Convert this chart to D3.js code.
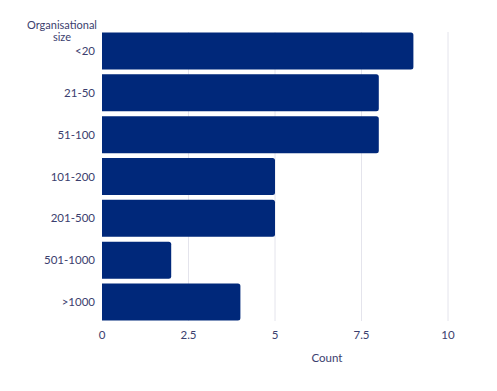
<!DOCTYPE html>
<html><head><meta charset="utf-8">
<script src="https://cdn.jsdelivr.net/npm/d3@7"></script>
<style>body{margin:0;background:#fff}text{font-family:Lato,"Open Sans",sans-serif}</style>
</head><body>
<svg id="c" width="497" height="391"></svg>
<script>
const categories = ["<20","21-50","51-100","101-200","201-500","501-1000",">1000"];
const counts = [9,8,8,5,5,2,4];
const xTicks = [0,2.5,5,7.5,10];

const svg = d3.select("#c");
const textColor = "#3b3e6e";
const x = d3.scaleLinear().domain([0,10]).range([102,448]);
const y = d3.scaleBand().domain(categories).range([30,323]).paddingInner(0.115).paddingOuter(0.06);

// gridlines
svg.append("g").selectAll("line").data(xTicks.slice(1)).join("line")
  .attr("x1",d=>x(d)).attr("x2",d=>x(d)).attr("y1",32).attr("y2",321)
  .attr("stroke","#e4e4ec").attr("stroke-width",1);

// bars with rounded right corners
const r = 2.5;
svg.append("g").selectAll("path").data(categories).join("path")
  .attr("fill","#00287a")
  .attr("d",(c,i)=>{
    const x0=x(0), x1=x(counts[i]), y0=y(c), h=y.bandwidth();
    return `M${x0},${y0}H${x1-r}Q${x1},${y0} ${x1},${y0+r}V${y0+h-r}Q${x1},${y0+h} ${x1-r},${y0+h}H${x0}Z`;
  });

// y labels
svg.append("g").selectAll("text").data(categories).join("text")
  .attr("x",95).attr("y",c=>y(c)+y.bandwidth()/2+4)
  .attr("text-anchor","end").attr("font-size",11.5).attr("fill",textColor).text(c=>c);

// x ticks
svg.append("g").selectAll("text").data(xTicks).join("text")
  .attr("x",d=>x(d)).attr("y",339).attr("text-anchor","middle")
  .attr("font-size",11.5).attr("fill",textColor).text(d=>d);

svg.append("text").attr("x",327).attr("y",362).attr("text-anchor","middle")
  .attr("font-size",11.5).attr("fill",textColor).text("Count");

const t = svg.append("text").attr("text-anchor","middle").attr("font-size",11).attr("fill",textColor);
t.append("tspan").attr("x",62).attr("y",29).text("Organisational");
t.append("tspan").attr("x",62).attr("y",41).text("size");
</script>
</body></html>
